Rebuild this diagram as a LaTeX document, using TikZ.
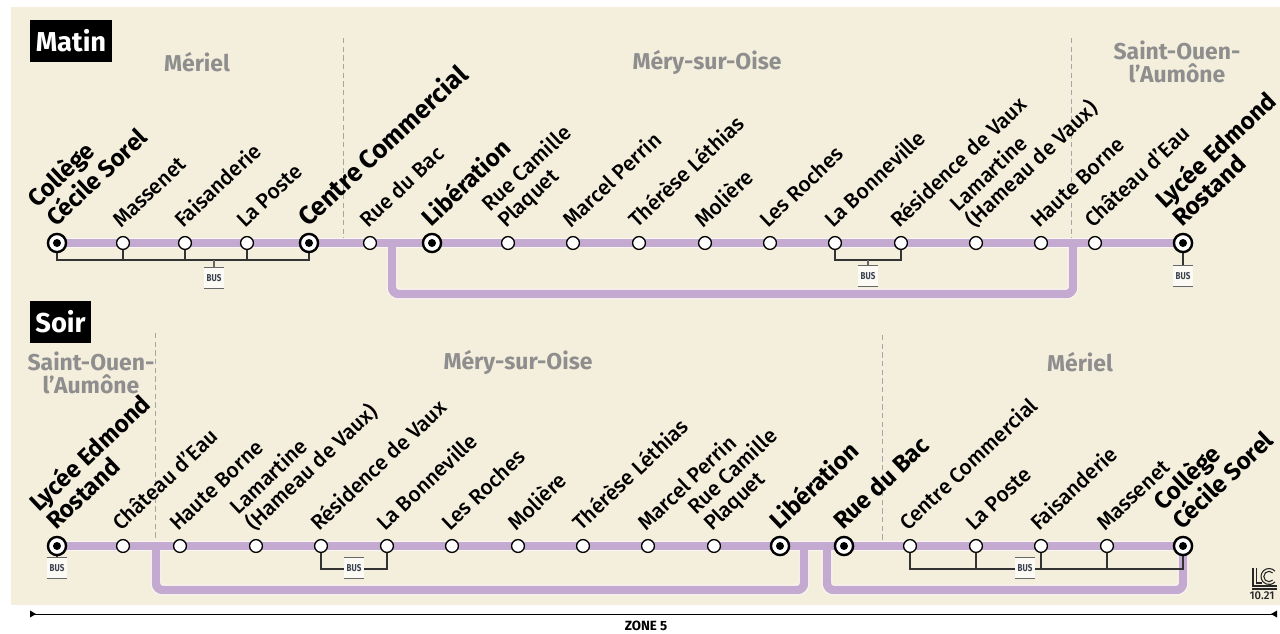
\documentclass[tikz,border=0pt]{standalone}
\usepackage{fontspec}
\setmainfont{Fira Sans}
\newfontfamily\busfont[FakeStretch=0.8]{Fira Sans}
\newfontfamily\medfont{Fira Sans Medium}
\usetikzlibrary{calc}
\pgfdeclarelayer{bg}
\pgfsetlayers{bg,main}
\definecolor{paper}{HTML}{F4EEDC}
\definecolor{lilac}{HTML}{C4A9D0}
\definecolor{halo}{HTML}{FAF7F2}
\definecolor{townc}{HTML}{8E8E8E}
\definecolor{busc}{HTML}{3A4250}
\tikzset{
 x=0.75pt,y=-0.75pt,
 smallst/.style={circle,draw=black,fill=white,line width=1pt,minimum size=9.6pt,inner sep=0pt},
 bigst/.style={circle,draw=black,fill=white,line width=1.8pt,minimum size=13.6pt,inner sep=0pt,
   path picture={\fill[black] (path picture bounding box.center) circle (3pt);}},
 lab/.style={rotate=43.5,anchor=base west,inner sep=0pt,align=left,font=\medfont\fontsize{15.8}{17}\selectfont,text=black},
 blab/.style={lab,font=\fontsize{18}{18.5}\selectfont\bfseries},
 blabwide/.style={blab,rotate=-0.5,font=\fontsize{19.3}{18.5}\selectfont\bfseries},
 town/.style={inner sep=0pt,align=center,text=townc,font=\fontsize{17.2}{17}\selectfont\bfseries},
 period/.style={fill=black,text=white,inner sep=0pt,font=\fontsize{20.5}{21}\selectfont\bfseries},
 busbox/.style={fill=white!70!paper,minimum width=15pt,minimum height=15pt,inner sep=0pt,text=busc,font=\busfont\fontsize{7.5}{8}\selectfont\bfseries},
 busline/.style={draw=black!80,line width=0.8pt},
 buscap/.style={draw=black!60,line width=0.8pt},
 divider/.style={draw=black!35,line width=0.7pt,dash pattern=on 4pt off 2.5pt},
 logoline/.style={draw=black!85,line width=0.8pt},
}
\newcommand{\busnode}[2]{\node[busbox] (#1) at (#2) {BUS};
 \draw[buscap] (#1.north west)--(#1.north east) (#1.south west)--(#1.south east);}
\begin{document}
\begin{tikzpicture}
\useasboundingbox (0,0) rectangle (1280,633);
% top stations
\foreach \n/\x/\s in {1/57/bigst,2/123/smallst,3/185/smallst,4/247/smallst,5/309/bigst,6/370/smallst,7/432/bigst,8/508/smallst,9/573/smallst,10/639/smallst,11/705/smallst,12/770/smallst,13/835/smallst,14/901/smallst,15/976/smallst,16/1041/smallst,17/1095/smallst,18/1183/bigst}
 \node[\s] (t\n) at (\x,243) {};
\foreach \n/\x/\s in {1/57/bigst,2/123/smallst,3/180/smallst,4/256/smallst,5/321/smallst,6/387/smallst,7/452/smallst,8/518/smallst,9/583/smallst,10/648/smallst,11/714/smallst,12/780/bigst,13/844/bigst,14/910/smallst,15/976/smallst,16/1041/smallst,17/1107/smallst,18/1183/bigst}
 \node[\s] (s\n) at (\x,546) {};
% junction coordinates
\coordinate (tja) at (392,243);
\coordinate (tjb) at (1073,243);
\coordinate (tlo) at (0,294);
\coordinate (sja) at (156,546);
\coordinate (sjb) at (804,546);
\coordinate (sjc) at (827,546);
\coordinate (slo) at (0,590);
\coordinate (tbus) at (0,260);
\coordinate (sbus) at (0,569);
\begin{pgfonlayer}{bg}
\fill[paper] (11,7) rectangle (1280,605);
\foreach \c/\w in {halo/10.8,lilac/8.4}{
 \draw[\c,line width=\w*0.75pt] (t1.center)--(t18.center);
 \draw[\c,line width=\w*0.75pt] (s1.center)--(s18.center);
 \draw[\c,line width=\w*0.75pt,rounded corners=5pt] (tja)--(tja|-tlo)--(tjb|-tlo)--(tjb);
 \draw[\c,line width=\w*0.75pt,rounded corners=5pt] (sja)--(sja|-slo)--(sjb|-slo)--(sjb);
 \draw[\c,line width=\w*0.75pt,rounded corners=5pt] (sjc)--(sjc|-slo)--(s18|-slo)--(s18.center);
}
\draw[divider] (343,38)--(343,238);
\draw[divider] (1071,38)--(1071,238);
\draw[divider] (155,333)--(155,540);
\draw[divider] (882,335)--(882,540);
% bus links
\draw[busline] (t1.center)--(t1|-tbus)--(t5|-tbus)--(t5.center);
\foreach \n in {2,3,4} \draw[busline] (t\n.center)--(t\n|-tbus);
\draw[busline] (t13.center)--(t13|-tbus)--(t14|-tbus)--(t14.center);
\draw[busline] (s5.center)--(s5|-sbus)--(s6|-sbus)--(s6.center);
\draw[busline] (s14.center)--(s14|-sbus)--(s18|-sbus)--(s18.center);
\foreach \n in {15,16,17} \draw[busline] (s\n.center)--(s\n|-sbus);
\end{pgfonlayer}
% bus boxes
\busnode{ba}{214,278}
\busnode{bb}{868,276}
\busnode{bc}{1183,276}
\busnode{bd}{57,568}
\busnode{be}{354,568}
\busnode{bf}{1025,568}
\begin{pgfonlayer}{bg}
\draw[buscap] (ba.north)--(ba|-tbus);
\draw[buscap] (bb.north)--(bb|-tbus);
\draw[busline] (bc.north)--(t18.center);
\draw[busline] (bd.north)--(s1.center);
\end{pgfonlayer}
% period tags and towns
\node[period,minimum width=61.5pt,minimum height=31.5pt] (matin) at (71,41) {Matin};
\node[period,minimum width=45.75pt,minimum height=31.5pt] (soir) at (60.5,322) {Soir};
\node[town] (ta) at (197,62) {Mériel};
\node[town] (tb) at (707,62) {Méry-sur-Oise};
\node[town] (tc) at (1177,62) {Saint-Ouen-\\l’Aumône};
\node[town] (td) at (91,373) {Saint-Ouen-\\l’Aumône};
\node[town] (te) at (518,362) {Méry-sur-Oise};
\node[town] (tf) at (1080,362) {Mériel};
% top labels
\node[blab] (la1) at ($(t1)+(-1,-15)$) {Collège\\Cécile Sorel};
\node[lab] (la2) at ($(t2)+(-2,-14)$) {Massenet};
\node[lab] (la3) at ($(t3)+(-2,-14)$) {Faisanderie};
\node[lab] (la4) at ($(t4)+(-2,-14)$) {La Poste};
\node[blabwide] (la5) at ($(t5)+(-1,-15)$) {Centre Commercial};
\node[lab] (la6) at ($(t6)+(-2,-14)$) {Rue du Bac};
\node[blab] (la7) at ($(t7)+(-1,-15)$) {Libération};
\node[lab] (la8) at ($(t8)+(-2,-14)$) {Rue Camille\\Plaquet};
\node[lab] (la9) at ($(t9)+(-2,-14)$) {Marcel Perrin};
\node[lab] (la10) at ($(t10)+(-2,-14)$) {Thérèse Léthias};
\node[lab] (la11) at ($(t11)+(-2,-14)$) {Molière};
\node[lab] (la12) at ($(t12)+(-2,-14)$) {Les Roches};
\node[lab] (la13) at ($(t13)+(-2,-14)$) {La Bonneville};
\node[lab] (la14) at ($(t14)+(-2,-14)$) {Résidence de Vaux};
\node[lab] (la15) at ($(t15)+(-2,-14)$) {Lamartine\\(Hameau de Vaux)};
\node[lab] (la16) at ($(t16)+(-2,-14)$) {Haute Borne};
\node[lab] (la17) at ($(t17)+(-2,-14)$) {Château d’Eau};
\node[blab] (la18) at ($(t18)+(-1,-15)$) {Lycée Edmond\\Rostand};
% bottom labels
\node[blab] (lb1) at ($(s1)+(-1,-15)$) {Lycée Edmond\\Rostand};
\node[lab] (lb2) at ($(s2)+(-2,-14)$) {Château d’Eau};
\node[lab] (lb3) at ($(s3)+(-2,-14)$) {Haute Borne};
\node[lab] (lb4) at ($(s4)+(-2,-14)$) {Lamartine\\(Hameau de Vaux)};
\node[lab] (lb5) at ($(s5)+(-2,-14)$) {Résidence de Vaux};
\node[lab] (lb6) at ($(s6)+(-2,-14)$) {La Bonneville};
\node[lab] (lb7) at ($(s7)+(-2,-14)$) {Les Roches};
\node[lab] (lb8) at ($(s8)+(-2,-14)$) {Molière};
\node[lab] (lb9) at ($(s9)+(-2,-14)$) {Thérèse Léthias};
\node[lab] (lb10) at ($(s10)+(-2,-14)$) {Marcel Perrin};
\node[lab] (lb11) at ($(s11)+(-2,-14)$) {Rue Camille\\Plaquet};
\node[blab] (lb12) at ($(s12)+(-1,-15)$) {Libération};
\node[blab] (lb13) at ($(s13)+(-1,-15)$) {Rue du Bac};
\node[lab] (lb14) at ($(s14)+(-2,-14)$) {Centre Commercial};
\node[lab] (lb15) at ($(s15)+(-2,-14)$) {La Poste};
\node[lab] (lb16) at ($(s16)+(-2,-14)$) {Faisanderie};
\node[lab] (lb17) at ($(s17)+(-2,-14)$) {Massenet};
\node[blab] (lb18) at ($(s18)+(-1,-15)$) {Collège\\Cécile Sorel};
% logo
\draw[logoline] (1253,568)--(1253,586)--(1277,586);
\draw[logoline] (1256.5,568)--(1256.5,583)--(1262,583);
\draw[logoline] (1252,589)--(1277,589);
\coordinate (lc) at (1269,576.5);
\draw[logoline] (lc)++(42:6pt) arc (42:318:6pt);
\draw[logoline] (lc)++(45:3.9pt) arc (45:315:3.9pt);
\node[inner sep=0pt,text=black!85,font=\medfont\fontsize{8.5}{9}\selectfont] (logotxt) at (1262,595.5) {10.21};
% zone
\coordinate (za) at (30,614);
\coordinate (zb) at (1277,614);
\draw[black,line width=0.75pt] (za)--(zb);
\fill[black] (za)++(0,-3.5)--++(6,3.5)--++(-6,3.5)--cycle;
\fill[black] (zb)++(0,-3.5)--++(-6,3.5)--++(6,3.5)--cycle;
\node[inner sep=0pt,font=\fontsize{10}{11}\selectfont\bfseries] (zone) at (646,626) {ZONE 5};
\end{tikzpicture}
\end{document}
